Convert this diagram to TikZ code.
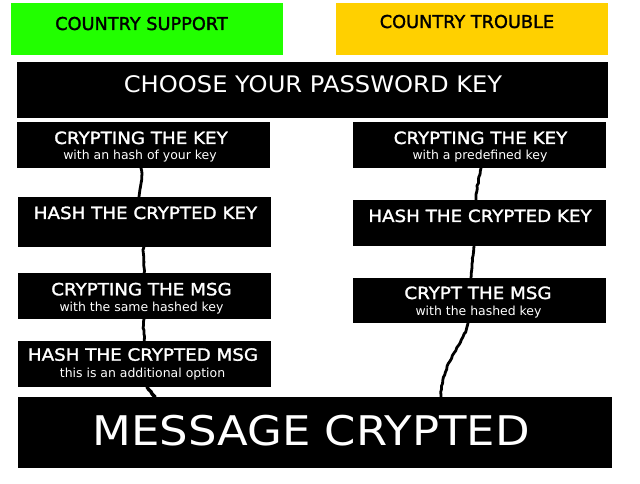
\documentclass[tikz,border=0pt]{standalone}
\usepackage{fontspec}
\setmainfont{DejaVu Sans}
\newfontfamily\titfont[FakeStretch=1.085, FakeBold=1.6]{DejaVu Sans}
\newfontfamily\headfont[FakeBold=1.6]{DejaVu Sans}
\newfontfamily\bigfont[FakeStretch=1.06]{DejaVu Sans}
\newfontfamily\hugefont[FakeStretch=1.10]{DejaVu Sans}
\usetikzlibrary{decorations.pathmorphing}
\definecolor{supgreen}{RGB}{34,255,0}
\definecolor{trbyellow}{RGB}{255,208,0}
\begin{document}
\begin{tikzpicture}[x=1bp,y=-1bp,
  blk/.style={fill=black, draw=none, inner sep=0pt, outer sep=0pt, anchor=north west},
  tit/.style={text=white, font=\titfont\fontsize{16.9}{18}\selectfont, anchor=base, inner sep=0pt},
  subt/.style={text=white, font=\fontsize{12.5}{14}\selectfont, anchor=base, inner sep=0pt},
  head/.style={text=black, font=\headfont\fontsize{17.8}{20}\selectfont, anchor=base, inner sep=0pt},
  wire/.style={line width=2.8bp, line cap=round, draw=black,
    decorate, decoration={random steps, segment length=3bp, amplitude=0.5bp}}]
\useasboundingbox (0,0) rectangle (640,484);

% header boxes
\node[blk, fill=supgreen, minimum width=272bp, minimum height=52bp] (sup) at (11,3) {};
\node[blk, fill=trbyellow, minimum width=272bp, minimum height=52bp] (trb) at (336,3) {};
\node[head] (supt) at (141.5,30) {COUNTRY SUPPORT};
\node[head] (trbt) at (467,28) {COUNTRY TROUBLE};

% choose box
\node[blk, minimum width=591bp, minimum height=56bp] (choose) at (17,62) {};
\node[text=white, font=\bigfont\fontsize{22.9}{26}\selectfont, anchor=base, inner sep=0pt] (chooset) at (313,92.7) {CHOOSE YOUR PASSWORD KEY};

% left column
\node[blk, minimum width=253bp, minimum height=46bp] (l1) at (17,122) {};
\node[tit] (l1t) at (141,144) {CRYPTING THE KEY};
\node[subt] (l1s) at (140,160) {with an hash of your key};

\node[blk, minimum width=253bp, minimum height=50bp] (l2) at (18,197) {};
\node[tit] (l2t) at (145.5,219) {HASH THE CRYPTED KEY};

\node[blk, minimum width=253bp, minimum height=46bp] (l3) at (18,273) {};
\node[tit] (l3t) at (141.5,295.3) {CRYPTING THE MSG};
\node[subt] (l3s) at (141.5,311) {with the same hashed key};

\node[blk, minimum width=253bp, minimum height=46bp] (l4) at (18,341) {};
\node[tit] (l4t) at (143,360.7) {HASH THE CRYPTED MSG};
\node[subt] (l4s) at (142.5,377) {this is an additional option};

% right column
\node[blk, minimum width=253bp, minimum height=46bp] (r1) at (353,122) {};
\node[tit] (r1t) at (480.5,144) {CRYPTING THE KEY};
\node[subt] (r1s) at (480,160) {with a predefined key};

\node[blk, minimum width=253bp, minimum height=46bp] (r2) at (353,200) {};
\node[tit] (r2t) at (480,222) {HASH THE CRYPTED KEY};

\node[blk, minimum width=253bp, minimum height=45bp] (r3) at (353,278) {};
\node[tit] (r3t) at (478,299) {CRYPT THE MSG};
\node[subt] (r3s) at (478.5,315) {with the hashed key};

% message box
\node[blk, minimum width=594bp, minimum height=71bp] (msg) at (18,397) {};
\node[text=white, font=\hugefont\fontsize{41}{46}\selectfont, anchor=base, inner sep=0pt] (msgt) at (311,445) {MESSAGE CRYPTED};

% left connectors
\draw[wire] ([xshift=-2.5bp]l1.south) .. controls +(1.5,12) and +(1,-12) .. ([xshift=-5.5bp]l2.north);
\draw[wire] ([xshift=-0.5bp]l2.south) .. controls +(-2,10) and +(1,-10) .. ([xshift=-0.5bp]l3.north);
\draw[wire] ([xshift=-0.5bp]l3.south) .. controls +(-1.5,8) and +(0.5,-8) .. ([xshift=-0.5bp]l4.north);
\draw[wire, line width=3.4bp] ([xshift=2.5bp]l4.south) .. controls +(3,4) and +(-3,-4) .. ([xshift=-160bp]msg.north);

% right connectors
\draw[wire] ([xshift=1.5bp]r1.south) .. controls +(-2,12) and +(0,-12) .. ([xshift=-3.5bp]r2.north);
\draw[wire] ([xshift=-5.5bp]r2.south) .. controls +(-1,12) and +(0,-12) .. ([xshift=-8.5bp]r3.north);
\draw[wire] ([xshift=-11.5bp]r3.south) .. controls +(-2,18) and +(0,-35) .. ([xshift=126bp]msg.north);
\end{tikzpicture}
\end{document}
